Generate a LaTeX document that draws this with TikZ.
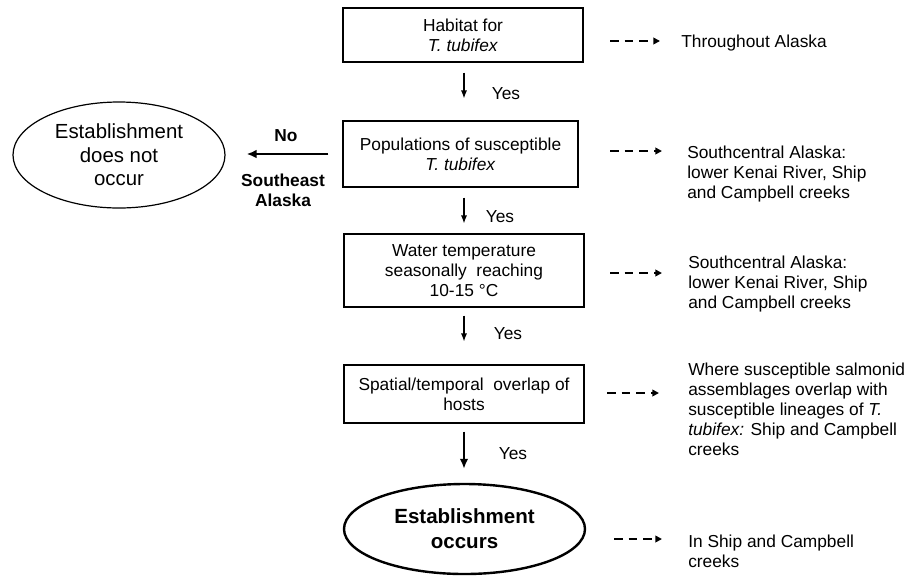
\documentclass[tikz,border=0pt]{standalone}
\usepackage{fontspec}
\setmainfont{Liberation Sans}
\usetikzlibrary{arrows.meta,shapes.geometric}
\begin{document}
\begin{tikzpicture}[x=0.75pt,y=-0.75pt,
  txt/.style={font=\fontsize{13}{15}\selectfont},
  box/.style={draw, line width=0.8pt, align=center, inner sep=0pt, txt},
  ell/.style={draw, ellipse, inner sep=0pt},
  side/.style={anchor=west, align=left, inner sep=0pt, txt},
  yes/.style={inner sep=0pt, txt},
  thinarrow/.style={line width=0.8pt, -{Latex[length=6pt,width=4.5pt]}},
  thickarrow/.style={line width=2.2pt, -{Latex[length=7.5pt,width=6.5pt]}},
  dasharrow/.style={line width=1.3pt, dash pattern=on 6.5pt off 4.5pt, -{Triangle[length=5pt,width=5pt]}}
]
\useasboundingbox (0,0) rectangle (906,576);

% main boxes
\node[box, minimum width=180pt, minimum height=40.5pt] (b1) at (463,35)
  {Habitat for\\\textit{T. tubifex}};
\node[box, minimum width=176.25pt, minimum height=49.5pt] (b2) at (460.5,154)
  {Populations of susceptible\\\textit{T. tubifex}};
\node[box, minimum width=180pt, minimum height=54.75pt] (b3) at (464,270.5)
  {Water temperature\\seasonally\ \ reaching\\10-15 °C};
\node[box, minimum width=180pt, minimum height=43.5pt] (b4) at (464,394)
  {Spatial/temporal\ \ overlap of\\hosts};

% ellipses
\node[ell, line width=0.9pt, minimum width=159pt, minimum height=79.5pt] (e1) at (119,155) {};
\node[align=center, inner sep=0pt, font=\fontsize{15.3}{17.6}\selectfont] (e1t) at (e1.center)
  {Establishment\\does not\\occur};
\node[ell, line width=1.8pt, minimum width=180.75pt, minimum height=67.5pt] (e2) at (464.5,529) {};
\node[align=center, inner sep=0pt, font=\fontsize{15.4}{18.75}\selectfont\bfseries] (e2t) at (e2.center)
  {Establishment\\occurs};

% down arrows
\draw[thinarrow, shorten <=7.5pt, shorten >=16.5pt] (b1.south -| b4.south) -- (b2.north -| b4.south);
\draw[thinarrow, shorten <=7.5pt, shorten >=7.5pt] (b2.south -| b4.south) -- (b3.north -| b4.south);
\draw[thinarrow, shorten <=6pt, shorten >=17.25pt] (b3.south) -- (b4.north);
\draw[thickarrow, shorten <=6pt, shorten >=10.5pt] (b4.south) -- (e2.north -| b4.south);

\node[yes] (y1) at (506,94) {Yes};
\node[yes] (y2) at (500,217) {Yes};
\node[yes] (y3) at (508,334) {Yes};
\node[yes] (y4) at (513,454) {Yes};

% No branch
\draw[thickarrow, shorten <=10.5pt, shorten >=15.75pt] (b2.west) -- (b2.west -| e1.east);
\node[inner sep=0pt, txt, font=\fontsize{13}{15}\selectfont\bfseries] (no) at (286,136) {No};
\node[inner sep=0pt, align=center, font=\fontsize{13}{15}\selectfont\bfseries] (se) at (283,190) {Southeast\\Alaska};

% right side texts
\node[side] (r1) at (681,43) {Throughout Alaska};
\node[side] (r2) at (687,174) {Southcentral Alaska:\\lower Kenai River, Ship\\and Campbell creeks};
\node[side] (r3) at (688,284) {Southcentral Alaska:\\lower Kenai River, Ship\\and Campbell creeks};
\node[side] (r4) at (688,409.5) {Where susceptible salmonid\\assemblages overlap with\\susceptible lineages of \textit{T.}\\\textit{tubifex:} Ship and Campbell\\creeks};
\node[side] (r5) at (688,551) {In Ship and Campbell\\creeks};

% dashed arrows
\coordinate (d1) at (610,41);
\coordinate (d2) at (610,151);
\coordinate (d3) at (610,273);
\coordinate (d4) at (607,393);
\coordinate (d5) at (614,539);
\draw[dasharrow, shorten >=15.75pt] (d1) -- (d1 -| r1.west);
\draw[dasharrow, shorten >=18.75pt] (d2) -- (d2 -| r2.west);
\draw[dasharrow, shorten >=19.5pt] (d3) -- (d3 -| r3.west);
\draw[dasharrow, shorten >=21.75pt] (d4) -- (d4 -| r4.west);
\draw[dasharrow, shorten >=19.5pt] (d5) -- (d5 -| r5.west);
\end{tikzpicture}
\end{document}
